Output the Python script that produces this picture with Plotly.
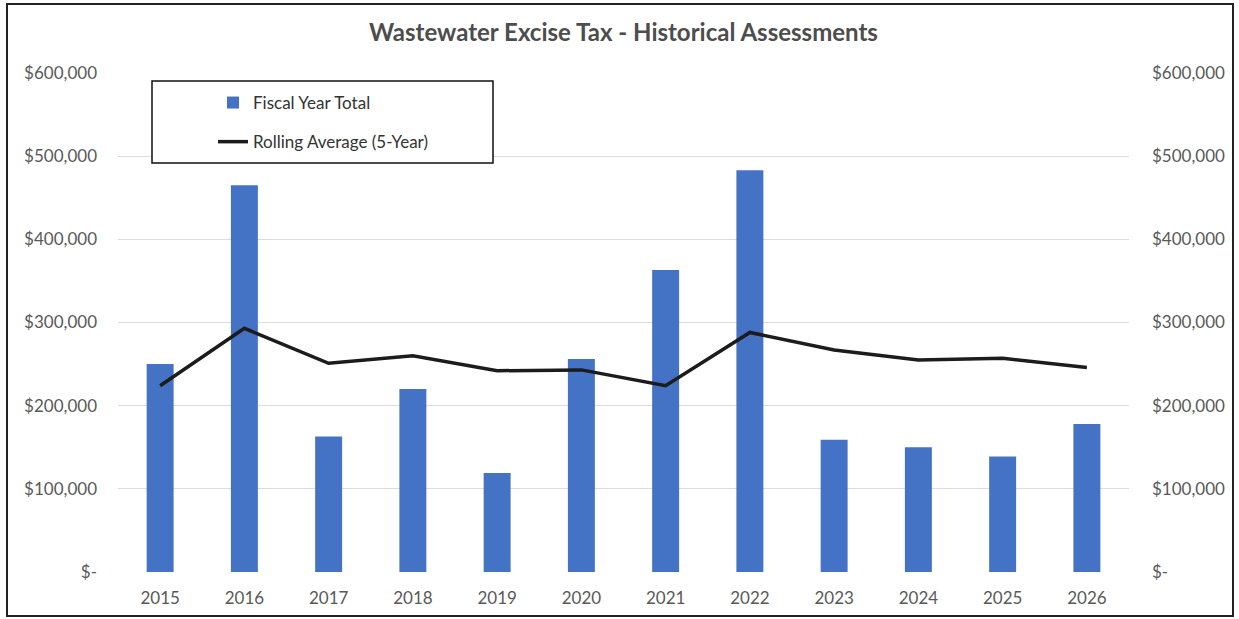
import plotly.graph_objects as go

# Fiscal years and assessment data
years = ["2015", "2016", "2017", "2018", "2019", "2020",
         "2021", "2022", "2023", "2024", "2025", "2026"]
fiscal_year_total = [250000, 465000, 163000, 220000, 119000, 256000,
                     363000, 483000, 159000, 150000, 139000, 178000]
rolling_average = [224000, 293000, 251000, 260000, 242000, 243000,
                   224000, 288000, 267000, 255000, 257000, 246000]

tick_vals = [0, 100000, 200000, 300000, 400000, 500000, 600000]
tick_text = ["$-", "$100,000", "$200,000", "$300,000", "$400,000",
             "$500,000", "$600,000"]

W, H = 1239, 619
ML, MR, MT, MB = 118, 110, 73, 47
PW, PH = W - ML - MR, H - MT - MB


def px_x(p):
    return (p - ML) / PW


def px_y(p):
    return (H - MB - p) / PH


FONT = "Lato"
AXIS_GREY = "#595959"

fig = go.Figure()
fig.add_trace(go.Bar(
    x=years, y=fiscal_year_total, name="Fiscal Year Total",
    marker=dict(color="#4472C4", line=dict(width=0)),
    legendgroup="a",
))
fig.add_trace(go.Scatter(
    x=years, y=rolling_average, name="Rolling Average (5-Year)",
    mode="lines", line=dict(color="#1c1c1c", width=3.5),
    yaxis="y2", legendgroup="b",
))

axis_common = dict(
    range=[0, 600000], tickvals=tick_vals, ticktext=tick_text,
    tickfont=dict(family=FONT, size=17, color=AXIS_GREY),
    zeroline=False, showline=False, ticks="",
)

fig.update_layout(
    width=W, height=H,
    margin=dict(l=ML, r=MR, t=MT, b=MB),
    paper_bgcolor="white", plot_bgcolor="white",
    bargap=0.68,
    title=dict(
        text="<b>Wastewater Excise Tax - Historical Assessments</b>",
        font=dict(family=FONT, size=24, color="#4d4d4d"),
        x=0.5, xref="paper", xanchor="center",
        y=1 - 33 / H, yref="container", yanchor="middle",
    ),
    xaxis=dict(
        type="category", showgrid=False, showline=False, ticks="",
        tickfont=dict(family=FONT, size=17, color=AXIS_GREY),
        ticklabelstandoff=14,
    ),
    yaxis=dict(
        **axis_common, showgrid=True, gridcolor="#dcdcdc", gridwidth=1,
        ticklabelstandoff=20,
    ),
    yaxis2=dict(
        **axis_common, overlaying="y", side="right", showgrid=False,
        ticklabelstandoff=22,
    ),
    legend=dict(
        x=px_x(213), y=px_y(85), xanchor="left", yanchor="top",
        bgcolor="rgba(0,0,0,0)", borderwidth=0,
        font=dict(family=FONT, size=17, color="#333333"),
        traceorder="grouped", tracegroupgap=14,
    ),
    showlegend=True,
    shapes=[
        # outer frame
        dict(type="rect", xref="paper", yref="paper",
             x0=px_x(7), x1=px_x(1233), y0=px_y(616), y1=px_y(4),
             line=dict(color="#222222", width=2), fillcolor="rgba(0,0,0,0)",
             layer="above"),
        # legend frame
        dict(type="rect", xref="paper", yref="paper",
             x0=px_x(152), x1=px_x(493), y0=px_y(163), y1=px_y(81),
             line=dict(color="#111111", width=1.5), fillcolor="white",
             layer="above"),
    ],
)

fig.write_html("out.html")
